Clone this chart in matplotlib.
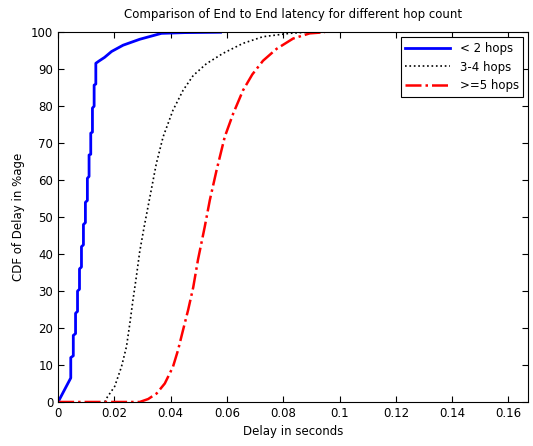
import numpy as np
import matplotlib
matplotlib.use('Agg')
import matplotlib.pyplot as plt

# CDF of end to end delay
# < 2 hops (stepped curve)
x_hop2 = [0, 0.0045, 0.0045, 0.0054, 0.0054, 0.0062, 0.0062, 0.0069, 0.0069,
          0.0076, 0.0076, 0.0083, 0.0083, 0.0090, 0.0090, 0.0097, 0.0097,
          0.0104, 0.0104, 0.0110, 0.0110, 0.0116, 0.0116, 0.0122, 0.0122,
          0.0128, 0.0128, 0.0134, 0.0134, 0.0145, 0.0165, 0.019, 0.0231,
          0.029, 0.0367, 0.045, 0.0577]
y_hop2 = [0, 6.5, 12, 12.5, 18, 18.5, 24, 24.5, 30, 30.5, 36, 36.5, 42, 42.5,
          48, 48.5, 54, 54.5, 60.5, 61, 66.8, 67, 72.7, 73, 79.5, 80, 85.7,
          86, 91.6, 92.2, 93.2, 94.8, 96.5, 98.1, 99.7, 99.9, 100]

# 3-4 hops
x_hop34 = [0.0166, 0.0172, 0.0201, 0.0225, 0.0243, 0.0255, 0.0266, 0.0278,
           0.029, 0.0306, 0.0325, 0.0349, 0.0373, 0.0408, 0.0444, 0.048,
           0.0527, 0.0586, 0.0657, 0.0728, 0.0823, 0.0882]
y_hop34 = [0, 1, 4.2, 9.5, 15, 21.3, 27.6, 33.9, 40.7, 47.5, 55, 64.5, 71.7,
           78.9, 84.3, 88.3, 91.5, 94.3, 97, 98.8, 99.7, 100]

# >=5 hops
x_hop5 = [0, 0.029, 0.032, 0.035, 0.0379, 0.0408, 0.0426, 0.0444, 0.0462,
          0.048, 0.0497, 0.0521, 0.0539, 0.0563, 0.0592, 0.0622, 0.0657,
          0.069, 0.0728, 0.0776, 0.0835, 0.0894, 0.0948]
y_hop5 = [0, 0, 0.8, 2.3, 5, 9.5, 14, 19.5, 24.9, 31, 38.5, 47.4, 54.6, 62.7,
          71.7, 78, 84.3, 88.6, 92.3, 95.5, 98.3, 99.7, 100]

plt.rcParams['font.family'] = ['DejaVu Sans']
plt.rcParams['font.size'] = 8.5

fig = plt.figure(figsize=(5.33, 4.46), dpi=100)
ax = fig.add_axes([0.109, 0.0987, 0.882, 0.829])

ax.plot(x_hop2, y_hop2, '-', color='#0000ff', lw=2, label='< 2 hops')
ax.plot(x_hop34, y_hop34, ':', color='black', lw=1.2, label='3-4 hops')
ax.plot(x_hop5, y_hop5, '-.', color='#ff0000', lw=1.8, label='>=5 hops')

ax.set_xlim(0, 0.167)
ax.set_ylim(0, 100)
ax.set_xticks(np.arange(0, 0.161, 0.02))
ax.set_xticklabels(['0', '0.02', '0.04', '0.06', '0.08', '0.1', '0.12', '0.14', '0.16'])
ax.set_yticks(np.arange(0, 101, 10))
ax.tick_params(direction='in', top=True, right=True, length=4)

ax.set_xlabel('Delay in seconds')
ax.set_ylabel('CDF of Delay in %age')
ax.set_title('Comparison of End to End latency for different hop count',
             fontsize=8.5, pad=10)

leg = ax.legend(loc='upper right', handlelength=3.8, fancybox=False,
                edgecolor='black', framealpha=1, borderaxespad=0.4)
leg.get_frame().set_linewidth(0.8)

fig.savefig('out.png', dpi=100)
